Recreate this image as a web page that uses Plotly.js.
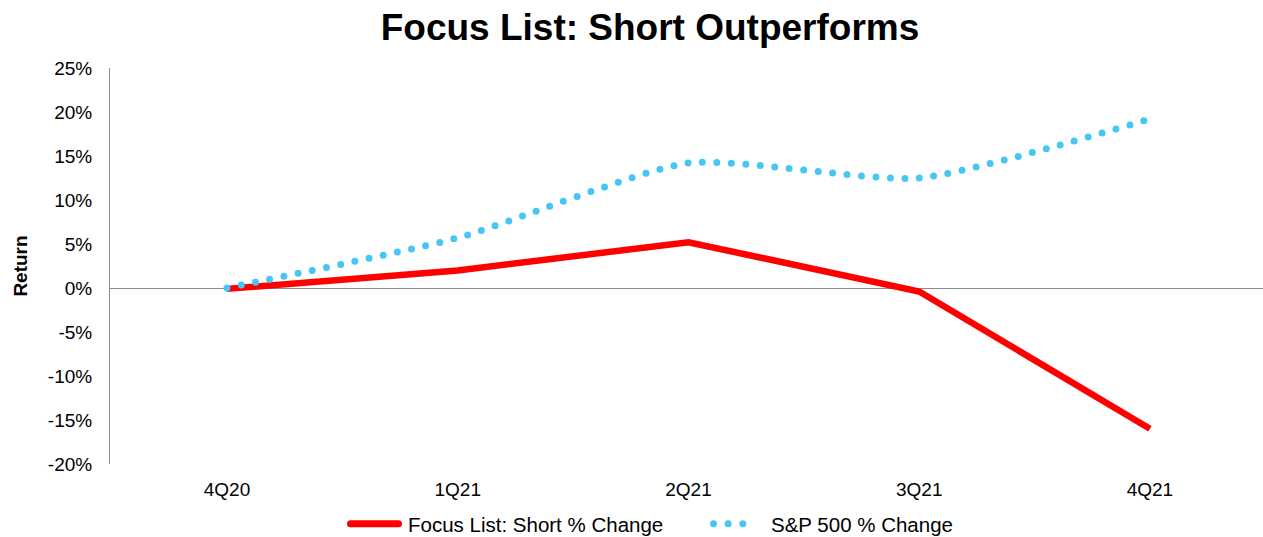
<!DOCTYPE html>
<html>
<head>
<meta charset="utf-8">
<script src="https://cdn.plot.ly/plotly-3.0.1.min.js"></script>
<style>html,body{margin:0;padding:0;background:#fff}#chart{width:1263px;height:537px}</style>
</head>
<body>
<div id="chart"></div>
<script>
var categories = ['4Q20', '1Q21', '2Q21', '3Q21', '4Q21'];
var focusShort = [-0.1, 2.0, 5.2, -0.4, -16.0];
var sp500 = [0.0, 5.7, 14.2, 12.5, 19.2];
var yTickVals = [-20, -15, -10, -5, 0, 5, 10, 15, 20, 25];
var yTickText = ['-20%', '-15%', '-10%', '-5%', '0%', '5%', '10%', '15%', '20%', '25%'];

var FONT = 'Liberation Sans, Arial, sans-serif';

var traces = [
  {
    x: categories, y: focusShort, name: 'Focus List: Short % Change',
    type: 'scatter', mode: 'lines',
    line: {color: '#FF0000', width: 6.5}
  },
  {
    x: categories, y: sp500, name: 'S&P 500 % Change',
    type: 'scatter', mode: 'lines',
    line: {color: '#47C6F4', width: 7, shape: 'spline', smoothing: 0.6}
  }
];

var layout = {
  width: 1263, height: 537,
  margin: {l: 110, r: 0, t: 68, b: 73},
  paper_bgcolor: '#fff', plot_bgcolor: '#fff',
  font: {family: FONT, color: '#000', size: 19},
  title: {text: '<b>Focus List: Short Outperforms</b>', font: {size: 37, family: FONT, color: '#000'},
          x: 650 / 1263, xanchor: 'center', xref: 'container', y: 1 - 27/537, yanchor: 'middle', yref: 'container'},
  showlegend: true,
  legend: {orientation: 'h', x: (368 - 110) / 1153, xanchor: 'left', xref: 'paper',
           y: 1 - 524 / 537, yanchor: 'middle', yref: 'container',
           font: {size: 20.5, family: FONT}, entrywidth: 318, entrywidthmode: 'pixels', tracegroupgap: 0},
  xaxis: {
    type: 'category', range: [-0.507, 4.49],
    showline: false, showgrid: false, zeroline: false, ticks: '',
    ticklabelstandoff: 12,
    tickfont: {size: 19, family: FONT}
  },
  yaxis: {
    range: [-20, 25], tickmode: 'array', tickvals: yTickVals, ticktext: yTickText,
    showgrid: false, showline: true, linecolor: '#8c8c8c', linewidth: 1,
    zeroline: true, zerolinecolor: '#8c8c8c', zerolinewidth: 1,
    ticks: '', ticklabelstandoff: 13,
    tickfont: {size: 19, family: FONT},
    title: {text: '<b>Return</b>', font: {size: 19, family: FONT}, standoff: 15},
    automargin: true
  }
};

function restyleLines(gd) {
  var lines = gd.querySelectorAll('.scatterlayer .trace');
  if (lines[1]) {
    lines[1].querySelectorAll('path.js-line').forEach(function (p) {
      p.style.strokeDasharray = '0 14.5';
      p.style.strokeLinecap = 'round';
    });
  }
  gd.querySelectorAll('.legend [clip-path]').forEach(function (el) {
    el.removeAttribute('clip-path');
  });
  var legItems = gd.querySelectorAll('.legend .traces');
  if (legItems[0]) {
    legItems[0].querySelectorAll('path.js-line').forEach(function (p) {
      p.setAttribute('d', 'M-17.5,0h48');
      p.style.strokeLinecap = 'round';
      p.style.strokeWidth = '7px';
    });
  }
  if (legItems[1]) {
    legItems[1].querySelectorAll('path.js-line').forEach(function (p) {
      p.setAttribute('d', 'M-17.5,0h44');
      p.style.strokeDasharray = '0 14.67';
      p.style.strokeLinecap = 'round';
      p.style.strokeWidth = '7px';
    });
  }
}

var gdEl = document.getElementById('chart');
Plotly.newPlot(gdEl, traces, layout, {displayModeBar: false, staticPlot: true}).then(function (gd) {
  restyleLines(gd);
  gd.on('plotly_afterplot', function () { restyleLines(gd); });
  setTimeout(function () { restyleLines(gd); }, 50);
});
</script>
</body>
</html>
